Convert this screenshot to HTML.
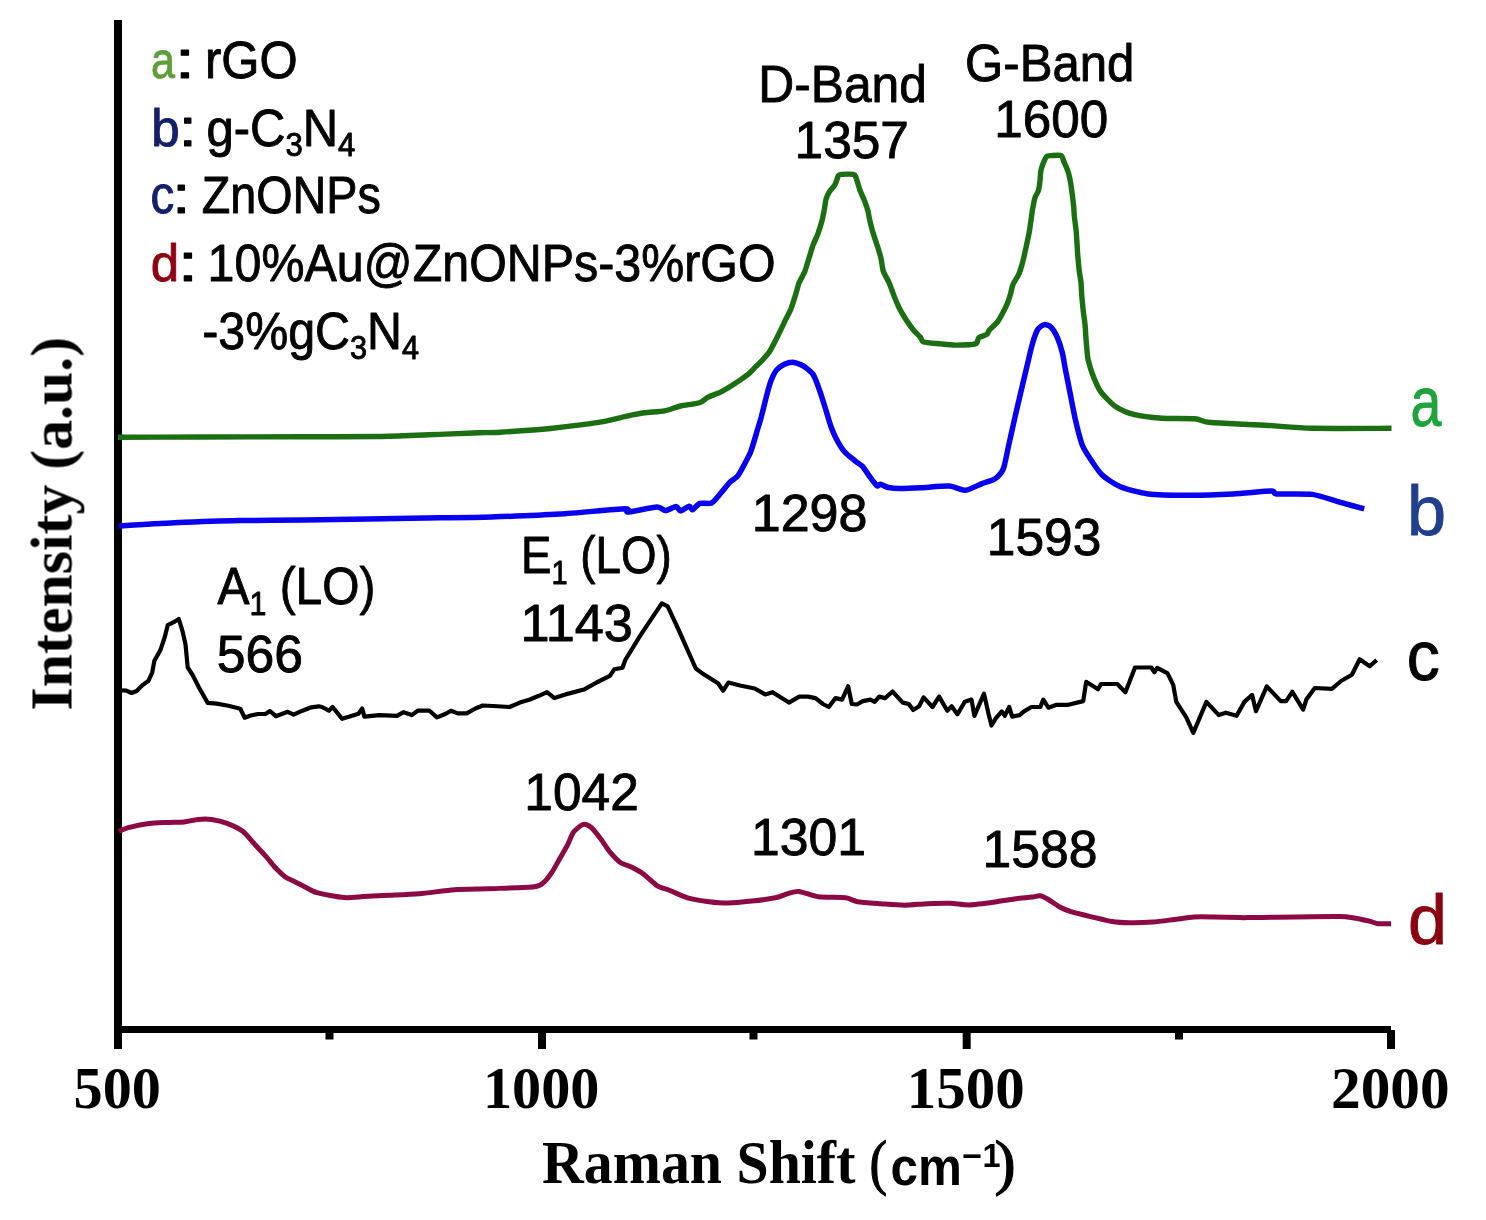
<!DOCTYPE html>
<html><head><meta charset="utf-8"><title>Raman spectra</title>
<style>html,body{margin:0;padding:0;background:#fff;width:1486px;height:1220px;overflow:hidden}svg{display:block}</style>
</head><body>
<svg width="1486" height="1220" viewBox="0 0 1486 1220">
<rect x="114" y="20" width="8" height="1029" fill="#000"/>
<rect x="114" y="1026" width="1277" height="7" fill="#000"/>
<rect x="538" y="1030" width="8" height="19" fill="#000"/>
<rect x="962.7" y="1030" width="8" height="19" fill="#000"/>
<rect x="1387" y="1030" width="8" height="19" fill="#000"/>
<rect x="325.5" y="1030" width="8" height="9.5" fill="#000"/>
<rect x="749.5" y="1030" width="8" height="9.5" fill="#000"/>
<rect x="1175" y="1030" width="8" height="9.5" fill="#000"/>
<rect x="963.4" y="1154.4" width="17.2" height="3.6" fill="#000"/>
<g fill="none" stroke-linejoin="round" stroke-linecap="butt">
<path d="M118,437.3 C127.6,437.3 178.8,437.1 200,437 C221.2,436.9 279.1,436.9 300,436.8 C320.9,436.7 364.1,436.7 379,436.5 C393.9,436.3 418.9,435.1 428,434.8 C437.1,434.5 451.1,433.8 457,433.6 C462.9,433.4 474.0,433.0 479,432.8 C484.0,432.6 491.7,432.7 500,432.2 C508.3,431.7 538.8,429.7 550.5,428.5 C562.2,427.3 591.1,423.6 600,422.2 C608.9,420.8 621.7,417.2 626.9,416.1 C632.1,415.0 640.0,413.4 644.4,412.8 C648.8,412.2 660.4,411.6 664.6,410.8 C668.8,410.0 676.7,406.9 680.8,406 C684.9,405.1 696.5,403.7 699.6,402.7 C702.7,401.7 705.2,398.6 707.7,397.3 C710.2,396.0 718.0,393.5 721.1,391.9 C724.2,390.3 731.5,385.8 734.6,383.8 C737.7,381.8 745.6,376.3 748,374.4 C750.4,372.5 753.2,369.3 754.8,367.7 C756.4,366.1 759.8,362.9 761.5,361 C763.2,359.1 767.6,354.6 769.6,351.5 C771.6,348.4 776.8,337.9 778.5,334.5 C780.2,331.1 782.9,325.3 784.3,322.3 C785.7,319.3 789.5,312.5 790.8,309.2 C792.1,305.9 794.7,297.5 795.7,294.4 C796.7,291.3 797.9,285.7 799,283 C800.1,280.3 803.6,274.4 804.8,271.5 C806.0,268.6 807.9,261.5 808.9,258.4 C809.9,255.3 812.0,248.1 813,245.2 C814.0,242.3 816.9,236.7 817.9,233.8 C818.9,230.9 821.2,223.6 822,220.7 C822.8,217.8 823.9,211.7 824.4,209.2 C824.9,206.7 825.4,201.3 826,199.3 C826.6,197.3 828.2,193.7 829.3,192 C830.3,190.3 833.9,186.5 835,184.6 C836.1,182.7 837.6,176.8 838.4,175.6 C839.2,174.4 839.9,174.5 841.6,174.4 C843.3,174.3 851.5,174.2 853.1,174.4 C854.7,174.6 854.8,174.6 855.6,176.4 C856.4,178.2 858.7,186.6 859.7,189.5 C860.8,192.4 863.6,198.5 864.6,201 C865.6,203.5 867.3,208.7 867.9,210.8 C868.5,212.9 868.9,216.5 869.5,219 C870.1,221.5 871.8,228.8 872.8,232.1 C873.8,235.4 876.7,243.8 877.7,246.9 C878.7,250.0 880.3,255.5 881,258.4 C881.7,261.3 882.4,268.6 883.4,271.5 C884.4,274.4 888.0,280.1 889.2,283 C890.4,285.9 893.0,293.2 894.1,296.1 C895.2,299.0 897.7,304.8 899,307.5 C900.3,310.2 903.9,316.3 905.6,319 C907.3,321.7 912.1,328.4 913.8,330.5 C915.5,332.6 919.2,335.7 920.3,337 C921.4,338.3 921.2,341.2 923.6,342 C926.0,342.8 937.3,343.5 941,343.9 C944.7,344.3 951.7,345.1 955.7,345.1 C959.7,345.1 972.7,344.8 975.4,343.9 C978.1,343.0 977.4,338.8 978.7,337.7 C980.0,336.6 985.7,335.3 986.9,334.4 C988.1,333.5 988.0,331.6 989.2,330.2 C990.4,328.8 995.9,323.9 997.4,322 C998.9,320.1 1001.2,315.9 1002.3,313.8 C1003.4,311.7 1006.2,306.2 1007.2,303.9 C1008.2,301.6 1009.8,296.4 1010.5,294.1 C1011.2,291.8 1012.0,286.6 1013,284.3 C1014.0,282.0 1017.7,276.7 1018.7,274.4 C1019.8,272.1 1021.3,266.9 1022,264.6 C1022.7,262.3 1023.8,257.3 1024.4,254.8 C1025.0,252.3 1026.3,246.0 1026.9,243.3 C1027.5,240.6 1028.8,234.5 1029.3,231.8 C1029.8,229.1 1030.6,223.0 1031,220.3 C1031.4,217.6 1032.1,211.6 1032.6,208.9 C1033.1,206.2 1034.4,199.5 1035.1,197.4 C1035.8,195.3 1037.8,192.7 1038.4,190.8 C1039.0,188.9 1039.7,183.3 1040,181 C1040.3,178.7 1040.4,173.2 1040.8,171.1 C1041.2,169.0 1042.6,164.7 1043.3,163 C1044.0,161.3 1045.6,157.3 1046.6,156.4 C1047.6,155.5 1049.8,155.7 1051.5,155.6 C1053.2,155.5 1059.9,154.9 1061.3,155.6 C1062.7,156.3 1063.0,159.5 1063.8,161.3 C1064.6,163.1 1067.1,168.8 1067.9,171.1 C1068.7,173.4 1069.8,178.5 1070.3,181 C1070.8,183.5 1071.6,189.6 1072,192.5 C1072.4,195.4 1073.3,202.7 1073.6,205.6 C1073.9,208.5 1074.1,214.1 1074.4,217 C1074.7,219.9 1075.8,227.3 1076.1,230.2 C1076.4,233.1 1076.7,238.7 1076.9,241.6 C1077.1,244.5 1077.4,251.4 1077.7,254.8 C1078.0,258.2 1078.9,267.9 1079.3,271.1 C1079.7,274.3 1080.7,279.7 1081,282.6 C1081.3,285.5 1081.5,292.3 1081.8,295.7 C1082.1,299.1 1083.0,308.7 1083.4,312.1 C1083.8,315.5 1084.8,322.1 1085.1,325.2 C1085.4,328.3 1085.7,335.2 1086,339 C1086.3,342.8 1087.4,354.9 1087.7,357.4 C1088.0,359.8 1087.7,358.1 1088.2,360 C1088.7,361.9 1090.9,370.0 1092.3,373.7 C1093.7,377.4 1097.8,387.6 1100.5,391.4 C1103.2,395.2 1111.5,403.7 1115.5,406.4 C1119.5,409.1 1129.2,413.2 1134.6,414.6 C1140.0,416.0 1155.0,417.7 1162,418.2 C1169.0,418.7 1189.4,418.2 1194.8,418.7 C1200.2,419.2 1202.7,421.7 1208.4,422.3 C1214.1,422.9 1236.6,423.8 1243.9,424.2 C1251.2,424.6 1263.3,425.1 1271.3,425.6 C1279.3,426.1 1298.2,428.0 1312.2,428.3 C1326.2,428.6 1382.2,428.3 1391.5,428.3" stroke="#1b6f12" stroke-width="5.4"/>
<path d="M118.6,526 C125.1,525.6 160.5,523.4 174.6,522.8 C188.7,522.2 224.1,520.9 239.2,520.6 C254.3,520.3 288.7,520.2 303.8,520 C318.9,519.8 354.3,519.3 368.4,519.1 C382.5,518.9 410.7,518.2 425,518 C439.3,517.8 475.4,517.5 491.1,517 C506.9,516.5 544.4,515.1 560,514.1 C575.6,513.1 616.7,509.0 624.6,508.8 C632.5,508.6 624.0,512.2 627.8,512 C631.6,511.8 652.5,507.2 656.9,507 C661.3,506.8 663.2,510.5 665.5,510.5 C667.8,510.5 674.4,506.6 676.2,506.6 C678.0,506.6 679.1,510.9 680.6,510.9 C682.1,510.9 687.8,506.3 689.2,506.2 C690.6,506.1 691.2,510.1 692.4,509.8 C693.6,509.5 697.7,504.2 699.9,503.4 C702.1,502.6 709.0,504.3 711.5,503 C714.0,501.7 719.2,494.9 721.3,492.5 C723.4,490.1 727.6,484.5 729.5,482.6 C731.4,480.7 736.0,478.2 737.7,476.1 C739.4,474.0 742.8,467.5 744.3,464.6 C745.8,461.7 749.3,455.3 750.8,451.5 C752.3,447.7 755.6,436.1 756.8,432 C758.0,427.9 760.3,420.5 761.5,416.1 C762.7,411.7 765.8,398.7 766.9,394.6 C768.0,390.5 769.8,383.9 770.9,381.1 C772.0,378.3 774.7,372.4 776.3,370.4 C777.9,368.4 782.5,365.2 784.4,364.3 C786.3,363.4 790.7,362.3 792.5,362.3 C794.3,362.3 798.6,363.8 800,364.3 C801.4,364.8 803.4,365.8 804.9,367 C806.4,368.2 811.6,372.2 813.1,374.4 C814.6,376.6 816.8,382.8 818,385.9 C819.2,389.0 822.0,397.4 823,400.7 C824.0,404.0 826.1,410.7 827,413.8 C827.9,416.9 830.0,424.0 831.1,426.9 C832.2,429.8 834.6,435.5 836.1,438.4 C837.6,441.3 842.0,448.8 844.3,451.5 C846.6,454.2 853.6,459.6 855.7,461.3 C857.8,463.0 860.6,464.3 862.3,466.2 C864.0,468.1 868.8,475.4 870.5,477.7 C872.2,480.0 875.9,485.1 877,485.9 C878.1,486.7 879.0,484.1 880.3,484.3 C881.6,484.5 886.2,487.0 888.5,487.5 C890.8,488.0 896.2,488.5 900,488.5 C903.8,488.5 915.6,488.0 921.3,487.7 C927.0,487.4 944.0,485.8 949.2,486.1 C954.4,486.4 961.8,490.5 965.6,490.2 C969.4,489.9 978.6,484.9 982,483.6 C985.4,482.3 992.6,480.4 995.1,478.7 C997.6,477.0 1001.8,472.5 1003.3,468.9 C1004.8,465.3 1006.9,453.4 1008.2,447.5 C1009.5,441.6 1013.3,424.7 1014.8,418 C1016.3,411.3 1019.8,396.7 1021.3,390.2 C1022.8,383.7 1026.6,367.9 1027.9,362.3 C1029.2,356.7 1031.7,346.4 1032.8,342.6 C1033.9,338.8 1036.4,331.6 1037.7,329.5 C1039.0,327.4 1042.8,324.9 1044.3,324.6 C1045.8,324.3 1049.3,325.5 1050.8,327 C1052.3,328.5 1056.1,334.7 1057.4,337.7 C1058.7,340.7 1061.3,348.7 1062.3,352.5 C1063.3,356.3 1064.6,365.5 1065.6,370.5 C1066.6,375.5 1069.4,389.4 1070.5,395.1 C1071.6,400.8 1074.1,414.0 1075.4,419.7 C1076.7,425.4 1080.5,440.1 1082,444.3 C1083.5,448.5 1085.9,452.0 1088.2,455.6 C1090.5,459.2 1098.1,471.1 1101.9,474.8 C1105.7,478.5 1115.6,484.8 1121,487 C1126.4,489.2 1140.3,492.9 1148.3,493.9 C1156.3,494.9 1179.4,495.2 1189.3,495.2 C1199.2,495.2 1223.4,494.4 1233,493.9 C1242.6,493.4 1266.2,491.1 1271.3,491.1 C1276.4,491.1 1271.9,493.5 1276.7,493.9 C1281.5,494.3 1304.9,493.4 1312.2,494.4 C1319.5,495.4 1333.5,500.4 1339.6,502.1 C1345.7,503.8 1361.3,508.1 1364.2,508.9" stroke="#0800f0" stroke-width="5.5"/>
<polyline points="121.8,690.3 126.3,690.6 131.5,693 136.6,691 142.6,685.1 148.5,680.7 152.2,672.5 154.4,660.7 160.3,650.3 164.8,637 167.7,625.2 173.7,622.2 178.8,619 182.5,631.1 185.5,644.4 187.7,667.4 192.9,675.5 198.8,687.3 207.7,702.9 216.6,703.6 228.4,705.8 240.3,708.8 244.7,717.7 250.6,715.5 258,714 265.4,714 269.9,711 275.8,716.2 287.7,711.8 293.6,714.7 302.4,710.7 311.3,707.3 318.7,706.3 322,707 328.9,710.7 332.6,707 342.2,718.8 349.6,716.6 358.5,713.7 362.2,708.5 364.4,716.6 379.2,715.1 397,715.9 403.6,712.2 411.8,715.1 417.7,710.7 429.5,710.7 437,717.4 445.8,713.7 451,710.7 457.7,713.4 466.6,713.4 475.4,708.5 482.8,705.5 493.2,706 509.5,707 519.9,702.6 530,699.5 538.9,695.8 547,692.1 554.4,698.1 568.5,693.6 584.8,689.2 596.6,682.5 609.9,675.9 614.4,669.2 622.5,667.7 625.5,659.6 641,634.4 661.8,603.3 667.7,606.3 678,628.5 695.8,668.5 701.7,672.9 718,683.3 723.2,690.7 728.4,682.5 740,685.5 754.8,688.5 765.2,694.4 772.6,692.2 788.9,702.6 799.2,696.6 808.1,696.6 815.5,698.1 822.9,704 828.8,707 835.5,698.1 842.1,699.6 848.1,686.3 851.8,704 857,704.5 862.9,701.1 870.3,699.6 874.7,701.8 879.2,696.6 885.1,698.1 892.5,691.5 902.8,702.6 908.8,704 913.2,710 919.1,706.3 923.6,697.4 932.5,707 939.1,696.6 947.3,710.7 951.7,706.3 957.4,714.4 964.8,701.8 971.5,699.6 974.4,715.9 984,693.7 988.5,713.7 991.5,725.5 995.9,718.1 1001.8,711.4 1004.8,715.9 1009.2,707 1012.2,716.6 1019.6,715.1 1024,711.4 1031.4,707 1040.3,707 1043.3,699.6 1048.4,707.7 1056.6,704.8 1068.4,704.8 1083.2,701.1 1086.2,681.8 1098,689.2 1101,684 1117.3,684 1125.4,692.2 1135,667.5 1151.3,667.5 1154.3,672.2 1157.3,667.8 1167.6,673.3 1173.2,684.9 1176.3,701.9 1186.3,717.4 1193.3,732.9 1206.4,701.9 1218.8,715.1 1225.8,712.7 1236.6,715.8 1244.4,701.9 1252.1,694.9 1256,711.2 1266.8,686.4 1280.7,701.1 1286.1,701.1 1292.3,691.8 1303.2,709.6 1306.3,699.6 1314.8,688 1331.8,688.8 1341.1,681 1351.9,674.8 1359.7,659.3 1369.7,666.3 1376.7,660.1" stroke="#000" stroke-width="4.2"/>
<path d="M118.8,831.2 C120.0,830.7 126.0,828.2 129.5,827.3 C133.0,826.4 144.4,824.0 149,823.4 C153.6,822.8 164.4,822.6 168.5,822.4 C172.6,822.2 180.8,822.2 184.2,821.9 C187.6,821.6 194.6,819.8 197.8,819.5 C201.0,819.2 208.1,819.0 211.5,819.5 C214.9,820.0 223.5,822.0 227.1,823.4 C230.7,824.8 239.5,828.8 242.7,831.2 C245.9,833.6 251.7,840.9 254.4,843.9 C257.1,846.9 263.6,853.8 266.1,856.6 C268.6,859.4 273.6,865.9 275.9,868.3 C278.2,870.7 282.6,875.2 285.6,877.1 C288.6,879.0 297.6,883.1 301.3,884.9 C305.0,886.7 311.9,891.2 316.9,892.7 C321.9,894.2 338.7,897.1 344.2,897.6 C349.7,898.1 358.4,896.9 363.7,896.6 C369.0,896.3 383.5,895.5 390,895.2 C396.5,894.9 411.8,894.3 419.3,893.7 C426.8,893.1 446.4,890.4 454.4,889.8 C462.4,889.2 478.3,889.1 487.6,888.8 C496.9,888.4 527.8,887.6 534.4,886.8 C541.0,886.0 542.1,883.7 544.2,882 C546.3,880.3 550.2,874.9 552,872.2 C553.8,869.5 558.0,861.7 559.8,858.5 C561.6,855.3 566.0,848.0 567.6,844.9 C569.2,841.8 571.6,834.6 573.4,832.2 C575.2,829.8 581.1,825.0 583.2,824.4 C585.3,823.8 588.9,825.6 591,827.3 C593.1,829.0 598.5,836.0 600.8,839 C603.1,842.0 608.2,850.0 610.5,852.7 C612.8,855.4 617.8,860.8 620.3,862.5 C622.8,864.2 629.3,865.9 632,867.3 C634.7,868.7 640.7,872.0 643.7,874.2 C646.7,876.4 654.3,884.0 657.4,885.9 C660.5,887.8 666.5,889.1 670,890.5 C673.5,891.9 683.1,896.5 687.6,897.8 C692.1,899.1 704.2,901.1 709,901.7 C713.8,902.3 723.5,903.2 728.5,903.1 C733.5,903.0 746.5,901.7 752,901.1 C757.5,900.5 771.3,898.6 775.4,897.8 C779.5,897.0 784.4,894.6 787.1,893.9 C789.8,893.2 795.2,891.1 798.8,891.4 C802.4,891.7 812.8,896.1 818.3,896.8 C823.8,897.5 841.0,897.2 845.6,897.8 C850.2,898.4 853.3,901.0 857.4,901.7 C861.5,902.4 875.3,903.3 880.8,903.7 C886.3,904.1 898.7,905.2 904.2,905.2 C909.7,905.2 922.3,903.9 927.6,903.7 C932.9,903.5 945.1,903.2 950,903.3 C954.9,903.4 964.3,905.1 969.5,904.9 C974.7,904.7 989.7,902.7 994.9,902 C1000.1,901.3 1010.1,899.6 1014.4,899 C1018.7,898.4 1029.0,897.5 1032,897.1 C1035.0,896.7 1038.0,895.5 1039.8,895.7 C1041.6,895.9 1045.3,897.7 1047.6,899 C1049.9,900.3 1056.6,905.3 1059.3,906.8 C1062.0,908.3 1067.4,910.6 1071,911.7 C1074.6,912.8 1085.7,915.5 1090.5,916.6 C1095.3,917.7 1107.5,920.8 1112,921.5 C1116.5,922.2 1124.7,922.7 1129.5,922.8 C1134.3,922.9 1147.8,922.5 1153,922.1 C1158.2,921.7 1169.6,920.1 1174.4,919.5 C1179.2,918.9 1189.4,917.3 1194,917 C1198.6,916.7 1208.1,916.9 1213.5,917 C1218.9,917.1 1234.9,917.5 1240,917.6 C1245.1,917.7 1245.3,917.6 1257,917.5 C1268.7,917.4 1327.3,916.1 1340.2,916.5 C1353.1,916.9 1363.4,920.0 1367.8,920.8 C1372.2,921.6 1375.4,923.4 1378.1,923.7 C1380.8,924.0 1389.6,923.7 1391.1,923.7" stroke="#8c0a44" stroke-width="5"/>
</g>
<g opacity="0.999">
<text transform="translate(151.04,78.40) scale(0.8296,1)" font-family='"Liberation Sans", sans-serif' font-size="52" font-weight="normal" fill="#5f9e3a" stroke="#5f9e3a" stroke-width="0.9" stroke-linejoin="round">a</text>
<text transform="translate(174.60,78.40) scale(1.4400,1)" font-family='"Liberation Sans", sans-serif' font-size="52" font-weight="normal" fill="#000" stroke="#000" stroke-width="0.9" stroke-linejoin="round">:</text>
<text transform="translate(204.97,78.40) scale(0.9441,1)" font-family='"Liberation Sans", sans-serif' font-size="52" font-weight="normal" fill="#000" stroke="#000" stroke-width="0.9" stroke-linejoin="round">rGO</text>
<text transform="translate(151.35,145.80) scale(0.9833,1)" font-family='"Liberation Sans", sans-serif' font-size="52" font-weight="normal" fill="#14206a" stroke="#14206a" stroke-width="0.9" stroke-linejoin="round">b</text>
<text transform="translate(178.40,145.80) scale(1.2800,1)" font-family='"Liberation Sans", sans-serif' font-size="52" font-weight="normal" fill="#000" stroke="#000" stroke-width="0.9" stroke-linejoin="round">:</text>
<text transform="translate(206.52,145.80) scale(0.9413,1)" font-family='"Liberation Sans", sans-serif' font-size="52" font-weight="normal" fill="#000" stroke="#000" stroke-width="0.9" stroke-linejoin="round">g-C<tspan font-size="33" dy="10">3</tspan><tspan dy="-10">N</tspan><tspan font-size="33" dy="10">4</tspan></text>
<text transform="translate(150.57,212.90) scale(0.9136,1)" font-family='"Liberation Sans", sans-serif' font-size="52" font-weight="normal" fill="#14206a" stroke="#14206a" stroke-width="0.9" stroke-linejoin="round">c</text>
<text transform="translate(172.00,212.90) scale(1.2800,1)" font-family='"Liberation Sans", sans-serif' font-size="52" font-weight="normal" fill="#000" stroke="#000" stroke-width="0.9" stroke-linejoin="round">:</text>
<text transform="translate(201.70,212.90) scale(0.8990,1)" font-family='"Liberation Sans", sans-serif' font-size="52" font-weight="normal" fill="#000" stroke="#000" stroke-width="0.9" stroke-linejoin="round">ZnONPs</text>
<text transform="translate(150.63,281.40) scale(0.9833,1)" font-family='"Liberation Sans", sans-serif' font-size="52" font-weight="normal" fill="#8e0010" stroke="#8e0010" stroke-width="0.9" stroke-linejoin="round">d</text>
<text transform="translate(177.50,281.40) scale(1.4400,1)" font-family='"Liberation Sans", sans-serif' font-size="52" font-weight="normal" fill="#000" stroke="#000" stroke-width="0.9" stroke-linejoin="round">:</text>
<text transform="translate(207.58,281.40) scale(0.9305,1)" font-family='"Liberation Sans", sans-serif' font-size="52" font-weight="normal" fill="#000" stroke="#000" stroke-width="0.9" stroke-linejoin="round">10%Au@ZnONPs-3%rGO</text>
<text transform="translate(202.14,349.30) scale(0.9304,1)" font-family='"Liberation Sans", sans-serif' font-size="52" font-weight="normal" fill="#000" stroke="#000" stroke-width="0.9" stroke-linejoin="round">-3%gC<tspan font-size="33" dy="10">3</tspan><tspan dy="-10">N</tspan><tspan font-size="33" dy="10">4</tspan></text>
<text transform="translate(758.27,102.10) scale(0.9568,1)" font-family='"Liberation Sans", sans-serif' font-size="52" font-weight="normal" fill="#000" stroke="#000" stroke-width="0.9" stroke-linejoin="round">D-Band</text>
<text transform="translate(794.54,157.80) scale(0.9890,1)" font-family='"Liberation Sans", sans-serif' font-size="52" font-weight="normal" fill="#000" stroke="#000" stroke-width="0.9" stroke-linejoin="round">1357</text>
<text transform="translate(965.06,80.90) scale(0.9451,1)" font-family='"Liberation Sans", sans-serif' font-size="52" font-weight="normal" fill="#000" stroke="#000" stroke-width="0.9" stroke-linejoin="round">G-Band</text>
<text transform="translate(994.26,136.60) scale(0.9855,1)" font-family='"Liberation Sans", sans-serif' font-size="52" font-weight="normal" fill="#000" stroke="#000" stroke-width="0.9" stroke-linejoin="round">1600</text>
<text transform="translate(751.70,531.00) scale(1.0009,1)" font-family='"Liberation Sans", sans-serif' font-size="52" font-weight="normal" fill="#000" stroke="#000" stroke-width="0.9" stroke-linejoin="round">1298</text>
<text transform="translate(986.74,554.50) scale(0.9908,1)" font-family='"Liberation Sans", sans-serif' font-size="52" font-weight="normal" fill="#000" stroke="#000" stroke-width="0.9" stroke-linejoin="round">1593</text>
<text transform="translate(217.50,603.70) scale(0.9214,1)" font-family='"Liberation Sans", sans-serif' font-size="52" font-weight="normal" fill="#000" stroke="#000" stroke-width="0.9" stroke-linejoin="round">A<tspan font-size="33" dy="11.5">1</tspan><tspan dy="-11.5"> (LO)</tspan></text>
<text transform="translate(216.81,672.40) scale(0.9939,1)" font-family='"Liberation Sans", sans-serif' font-size="52" font-weight="normal" fill="#000" stroke="#000" stroke-width="0.9" stroke-linejoin="round">566</text>
<text transform="translate(520.98,573.00) scale(0.8793,1)" font-family='"Liberation Sans", sans-serif' font-size="52" font-weight="normal" fill="#000" stroke="#000" stroke-width="0.9" stroke-linejoin="round">E<tspan font-size="33" dy="11">1</tspan><tspan dy="-11"> (LO)</tspan></text>
<text transform="translate(520.48,640.80) scale(1.0057,1)" font-family='"Liberation Sans", sans-serif' font-size="52" font-weight="normal" fill="#000" stroke="#000" stroke-width="0.9" stroke-linejoin="round">1143</text>
<text transform="translate(524.24,809.50) scale(0.9908,1)" font-family='"Liberation Sans", sans-serif' font-size="52" font-weight="normal" fill="#000" stroke="#000" stroke-width="0.9" stroke-linejoin="round">1042</text>
<text transform="translate(750.92,855.30) scale(0.9945,1)" font-family='"Liberation Sans", sans-serif' font-size="52" font-weight="normal" fill="#000" stroke="#000" stroke-width="0.9" stroke-linejoin="round">1301</text>
<text transform="translate(982.53,866.70) scale(0.9936,1)" font-family='"Liberation Sans", sans-serif' font-size="52" font-weight="normal" fill="#000" stroke="#000" stroke-width="0.9" stroke-linejoin="round">1588</text>
<text transform="translate(1410.62,425.50) scale(0.7917,1)" font-family='"Liberation Sans", sans-serif' font-size="70" font-weight="normal" fill="#20a23c" stroke="#20a23c" stroke-width="0.9" stroke-linejoin="round">a</text>
<text transform="translate(1406.88,535.40) scale(1.0032,1)" font-family='"Liberation Sans", sans-serif' font-size="70" font-weight="normal" fill="#213f8f" stroke="#213f8f" stroke-width="0.9" stroke-linejoin="round">b</text>
<text transform="translate(1406.87,679.60) scale(0.9433,1)" font-family='"Liberation Sans", sans-serif' font-size="70" font-weight="normal" fill="#000" stroke="#000" stroke-width="0.9" stroke-linejoin="round">c</text>
<text transform="translate(1408.00,943.60) scale(1.0000,1)" font-family='"Liberation Sans", sans-serif' font-size="70" font-weight="normal" fill="#8a0010" stroke="#8a0010" stroke-width="0.9" stroke-linejoin="round">d</text>
<text transform="translate(73.56,1108.00) scale(0.9709,1)" font-family='"Liberation Serif", serif' font-size="60" font-weight="bold" fill="#000" stroke="none" stroke-width="0" stroke-linejoin="round">500</text>
<text transform="translate(482.95,1108.00) scale(0.9708,1)" font-family='"Liberation Serif", serif' font-size="60" font-weight="bold" fill="#000" stroke="none" stroke-width="0" stroke-linejoin="round">1000</text>
<text transform="translate(906.79,1108.00) scale(0.9823,1)" font-family='"Liberation Serif", serif' font-size="60" font-weight="bold" fill="#000" stroke="none" stroke-width="0" stroke-linejoin="round">1500</text>
<text transform="translate(1331.03,1108.00) scale(0.9887,1)" font-family='"Liberation Serif", serif' font-size="60" font-weight="bold" fill="#000" stroke="none" stroke-width="0" stroke-linejoin="round">2000</text>
<text transform="translate(542.05,1183.00) scale(0.9483,1)" font-family='"Liberation Serif", serif' font-size="61" font-weight="bold" fill="#000" stroke="none" stroke-width="0" stroke-linejoin="round">Raman Shift</text>
<text transform="translate(869.40,1183.00) scale(0.8667,1)" font-family='"Liberation Serif", serif' font-size="61" font-weight="normal" fill="#000" stroke="#000" stroke-width="1.2" stroke-linejoin="round">(</text>
<text transform="translate(890.50,1184.50) scale(0.9500,1)" font-family='"Liberation Sans", sans-serif' font-size="52" font-weight="bold" fill="#000" stroke="none" stroke-width="0" stroke-linejoin="round">cm</text>
<text transform="translate(982.59,1166.60) scale(0.9562,1)" font-family='"Liberation Sans", sans-serif' font-size="34" font-weight="bold" fill="#000" stroke="none" stroke-width="0" stroke-linejoin="round">1</text>
<text transform="translate(994.51,1183.00) scale(1.0437,1)" font-family='"Liberation Serif", serif' font-size="61" font-weight="normal" fill="#000" stroke="#000" stroke-width="1.2" stroke-linejoin="round">)</text>
<text transform="translate(71.50,710.53) rotate(-90) scale(1.0132,1)" font-family='"Liberation Serif", serif' font-size="59" font-weight="bold" fill="#000">Intensity (a.u.)</text>
</g>
</svg>
</body></html>
